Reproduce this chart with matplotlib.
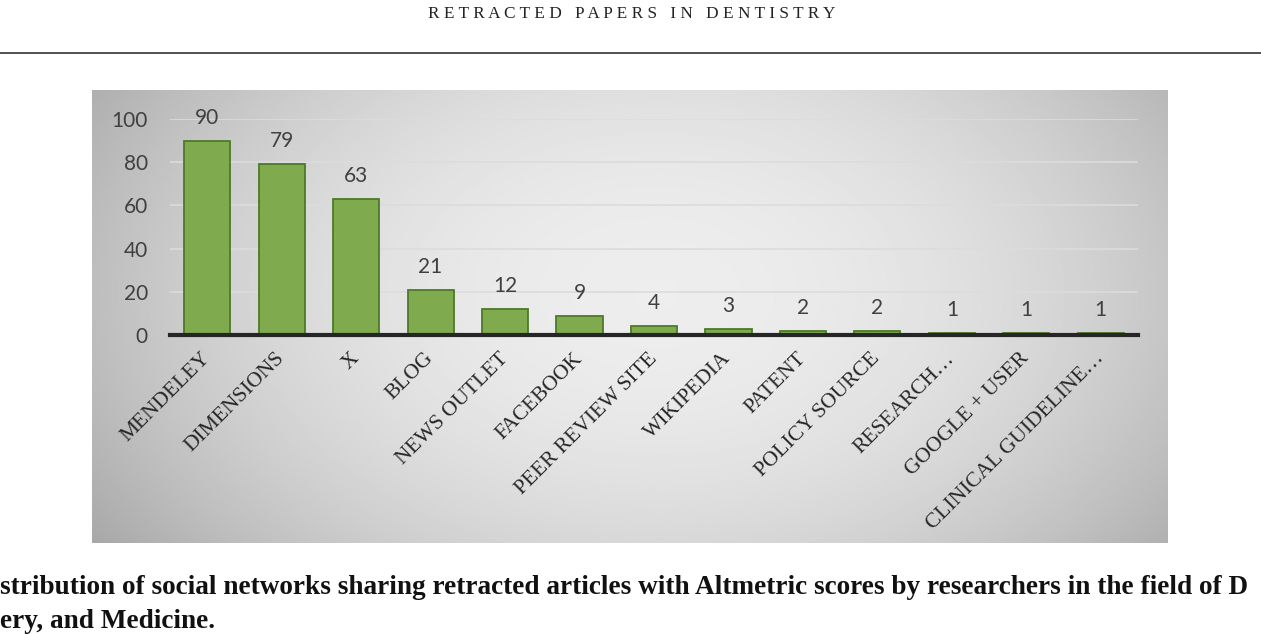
import matplotlib.pyplot as plt
import numpy as np

categories = ["MENDELEY", "DIMENSIONS", "X", "BLOG", "NEWS OUTLET", "FACEBOOK",
              "PEER REVIEW SITE", "WIKIPEDIA", "PATENT", "POLICY SOURCE",
              "RESEARCH…", "GOOGLE + USER", "CLINICAL GUIDELINE…"]
counts = [90, 79, 63, 21, 12, 9, 4, 3, 2, 2, 1, 1, 1]
yticks = [0, 20, 40, 60, 80, 100]

W, H = 1261, 634
fig = plt.figure(figsize=(W / 100, H / 100), dpi=100)

def box(x0, y0, x1, y1):
    # pixel box (top-left origin) -> figure fraction rect
    return [x0 / W, 1 - y1 / H, (x1 - x0) / W, (y1 - y0) / H]

# page header, letter-spaced
header = "   ".join(" ".join(w) for w in "RETRACTED PAPERS IN DENTISTRY".split())
fig.text(632 / W, 1 - 14 / H, header, ha="center", va="center", fontsize=12.4,
         family="Liberation Serif", color="#222222")
fig.add_artist(plt.Line2D([0, 1], [1 - 53 / H, 1 - 53 / H], color="#333333", lw=1.2))

# grey gradient panel behind the chart
bg = fig.add_axes(box(92, 90, 1168, 543))
yy, xx = np.mgrid[-1:1:300j, -1:1:600j]
shade = 0.93 - 0.17 * (xx - 0.05) ** 2 - 0.07 * (yy + 0.1) ** 2
bg.imshow(shade, cmap="gray", vmin=0, vmax=1, aspect="auto", extent=[0, 1, 0, 1])
bg.set_axis_off()

ax = fig.add_axes(box(170, 119, 1138, 335))
ax.patch.set_alpha(0)
x = np.arange(len(categories))
ax.bar(x, counts, width=0.62, color="#7fab4e", edgecolor="#4c7a29", linewidth=1.3, zorder=3)
for xi, v in zip(x, counts):
    ax.text(xi, v + 6, str(v), ha="center", va="bottom", fontsize=15,
            family="Lato", color="#404040")

ax.set_xlim(-0.5, len(categories) - 0.5)
ax.set_ylim(0, 100)
ax.set_yticks(yticks)
ax.set_yticklabels([str(t) for t in yticks], family="Lato", fontsize=15, color="#404040")
ax.yaxis.grid(True, color="#dcdcdc", lw=1.2, zorder=0)
ax.tick_params(axis="y", length=0, pad=16)
ax.tick_params(axis="x", length=0, pad=15)
ax.set_xticks(x)
ax.set_xticklabels(categories, rotation=45, ha="right", va="center", rotation_mode="anchor",
                   family="Liberation Serif", fontsize=15.5, color="#262626")
for s in ["left", "right", "top"]:
    ax.spines[s].set_visible(False)
ax.spines["bottom"].set_color("#262626")
ax.spines["bottom"].set_linewidth(3)
ax.spines["bottom"].set_zorder(4)

# caption (the page crop cuts it at both edges)
fig.text(0, 1 - 588 / H,
         "stribution of social networks sharing retracted articles with Altmetric scores by researchers in the field of D",
         ha="left", va="center", fontsize=19.6, family="Liberation Serif", weight="bold", color="#111111")
fig.text(0, 1 - 621 / H, "ery, and Medicine.", ha="left", va="center", fontsize=19.6,
         family="Liberation Serif", weight="bold", color="#111111")

fig.savefig("out.png", dpi=100)
